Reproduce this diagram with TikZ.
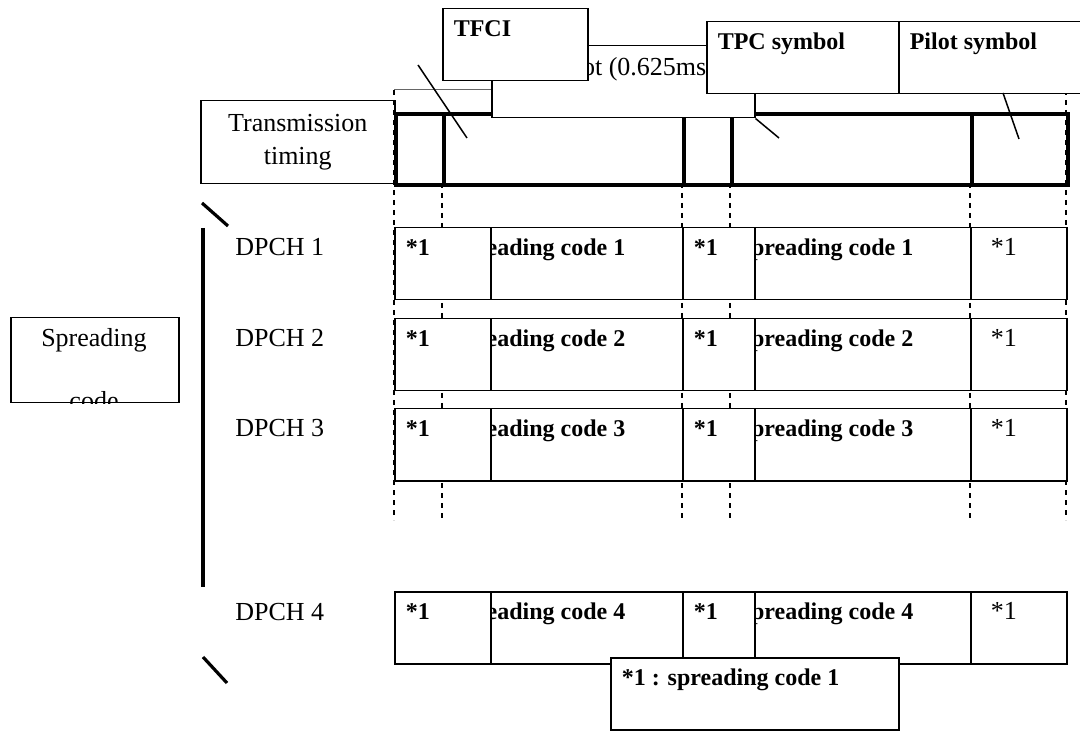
\documentclass[tikz,border=0pt]{standalone}
\usepackage{fontspec}
\setmainfont{Liberation Serif}

\begin{document}
\begin{tikzpicture}[
  x=0.5pt, y=-0.5pt,
  box/.style={draw, fill=white, line width=0.75pt, inner sep=0pt},
  tbox/.style={box, anchor=north west, inner xsep=5.5pt, text height=14pt, text depth=22pt, align=flush left, font=\bfseries\fontsize{12}{14}\selectfont},
  txt/.style={inner sep=0pt, font=\fontsize{13}{16.5}\selectfont},
  barcell/.style={draw, line width=2pt, anchor=north west, minimum height=35.5pt, inner sep=0pt},
  lead/.style={line width=0.75pt},
  dotln/.style={line width=1pt, dash pattern=on 2.5pt off 2.5pt},
  brk/.style={line width=1.6pt}
]
  \useasboundingbox (0,0) rectangle (1080,731);

  \node[box, txt, anchor=north west, minimum width=97pt, minimum height=41.5pt, align=center] (timing) at (200,100) {Transmission\\timing};

  \draw[black!60, line width=0.5pt] (394,90) -- (1066,90);
  \foreach \x in {394,1066} \draw[dotln] (\x,90) -- (\x,520);
  \foreach \x in {442,682,730,970} \draw[dotln] (\x,183) -- (\x,520);

  \node[barcell, minimum width=24pt] (t1) at (394,112) {};
  \node[barcell, minimum width=120pt] (t2) at (442,112) {};
  \node[barcell, minimum width=24pt] (t3) at (682,112) {};
  \node[barcell, minimum width=120pt] (t4) at (730,112) {};
  \node[barcell, minimum width=48pt] (t5) at (970,112) {};

  \node[box, anchor=north west, minimum width=131.5pt, minimum height=36pt] (slot) at (491,45) {};
  \node[txt, anchor=base west] (slotlbl) at (560,76) {Slot (0.625ms)};

  \node[tbox, text width=61.5pt] (tfci) at (442,8) {TFCI};
  \node[tbox, text width=85pt] (tpc) at (706,21) {TPC symbol};
  \node[tbox, text width=85pt] (pilot) at (898,21) {Pilot symbol};

  \coordinate (tfcifoot) at (418,65);
  \coordinate (tfcitip) at (467,138);
  \coordinate (tpctip) at (779,138);
  \coordinate (pilotfoot) at (1003,93);
  \coordinate (pilottip) at (1019,139);
  \draw[lead] (tfcifoot) -- (tfcitip);
  \draw[lead] (slot.south east) -- (tpctip);
  \draw[lead] (pilotfoot) -- (pilottip);

  \node[box, anchor=north west, minimum width=84pt, minimum height=42.5pt] (spr) at (10,317) {};
  \begin{scope}
    \clip (spr.south west) rectangle (spr.north east);
    \node[txt, anchor=base] (sprtop) at (94,347) {Spreading};
    \node[txt, anchor=base] (sprbot) at (94,410) {code};
  \end{scope}

  \coordinate (brtop) at (203,228);
  \coordinate (brbot) at (203,587);
  \draw[brk] (brtop) -- (brbot);
  \draw[brk] (202,203) -- (228,226);
  \draw[brk] (203,657) -- (227,683);

  \foreach \row/\ytop in {1/227, 2/318, 3/408, 4/591} {
    \node[tbox, text width=109pt] (sa\row) at (442,\ytop) {spreading code \row};
    \node[tbox, text width=109pt] (sb\row) at (730,\ytop) {spreading code \row};
    \node[tbox, text width=37pt] (ka\row) at (394,\ytop) {*1};
    \node[tbox, text width=25pt] (kb\row) at (682,\ytop) {*1};
    \node[tbox, text width=37pt, font=\fontsize{13}{16}\selectfont] (kc\row) at (970,\ytop) {\hspace{4.5pt}*1};
    \node[txt, anchor=base west] (dpch\row) at (235,\ytop+29) {DPCH \row};
  }

  \node[tbox, text width=133pt] (note) at (610,657) {*1 : spreading code 1};
\end{tikzpicture}
\end{document}
